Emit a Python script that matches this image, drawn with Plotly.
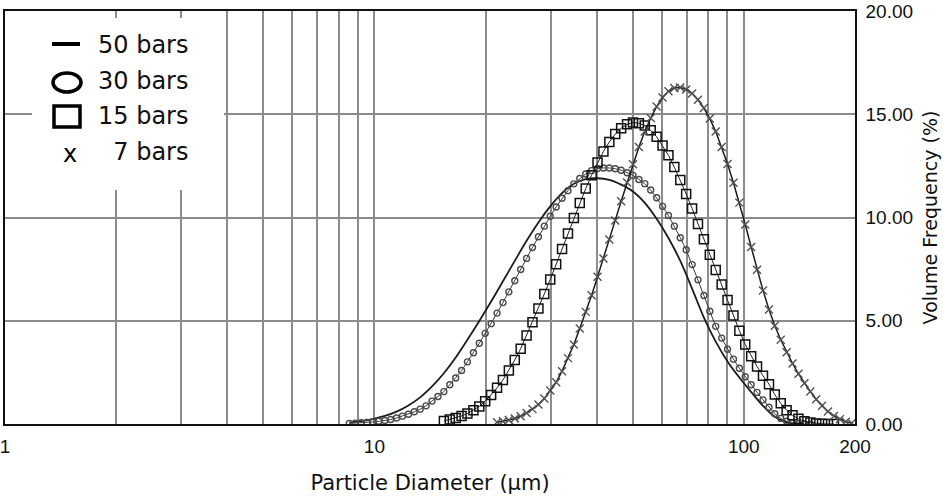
import math
import plotly.graph_objects as go

# ---------------- data ----------------
# particle-diameter bins (µm)
diam = [8.551, 8.872, 9.204, 9.550, 9.908, 10.28, 10.67, 11.07, 11.48, 11.91,
        12.36, 12.82, 13.30, 13.80, 14.32, 14.86, 15.42, 16.00, 16.60, 17.22,
        17.86, 18.54, 19.23, 19.95, 20.70, 21.48, 22.28, 23.12, 23.99, 24.89,
        25.82, 26.79, 27.80, 28.84, 29.92, 31.05, 32.21, 33.42, 34.67, 35.97,
        37.33, 38.73, 40.18, 41.69, 43.25, 44.87, 46.56, 48.31, 50.12, 52.00,
        53.95, 55.98, 58.08, 60.26, 62.52, 64.86, 67.30, 69.82, 72.44, 75.16,
        77.98, 80.91, 83.95, 87.10, 90.36, 93.76, 97.27, 100.9, 104.7, 108.6,
        112.7, 117.0, 121.3, 125.9, 130.6, 135.5, 140.6, 145.9, 151.4, 157.0,
        162.9, 169.0, 175.4, 182.0, 188.8, 195.9]

# 50 bars: solid line, values at every second bin starting from the first
bars50_y = [0.08, 0.14, 0.24, 0.39, 0.60, 0.90, 1.29, 1.82, 2.46, 3.22,
            4.08, 4.99, 5.93, 6.91, 7.90, 8.87, 9.76, 10.54, 11.18, 11.63,
            11.86, 11.90, 11.82, 11.59, 11.26, 10.71, 9.94, 9.01, 7.90, 6.56,
            5.15, 3.99, 3.03, 2.25, 1.55, 0.88, 0.35, 0.08, 0.0]

# 30 bars: circles, from bin 0
bars30_start = 0
bars30_y = [0.03, 0.04, 0.06, 0.07, 0.10, 0.13, 0.17, 0.22, 0.29, 0.38,
            0.47, 0.59, 0.72, 0.88, 1.11, 1.33, 1.57, 1.90, 2.23, 2.59,
            3.01, 3.45, 3.91, 4.39, 4.86, 5.37, 5.88, 6.40, 6.94, 7.48,
            8.02, 8.55, 9.07, 9.58, 10.06, 10.51, 10.93, 11.30, 11.63, 11.89,
            12.11, 12.27, 12.37, 12.40, 12.40, 12.36, 12.29, 12.17, 12.04, 11.84,
            11.64, 11.33, 10.96, 10.54, 10.10, 9.58, 9.02, 8.44, 7.72, 6.98,
            6.22, 5.46, 4.73, 4.16, 3.62, 3.14, 2.70, 2.29, 1.90, 1.53,
            1.17, 0.81, 0.50, 0.27, 0.13, 0.05, 0.01, 0.0, 0.0]

# 15 bars: squares, from bin 16
bars15_start = 16
bars15_y = [0.15, 0.22, 0.29, 0.39,
            0.51, 0.67, 0.85, 1.10, 1.40, 1.75, 2.13, 2.59, 3.10, 3.65,
            4.29, 4.93, 5.59, 6.30, 7.00, 7.74, 8.48, 9.23, 9.97, 10.70,
            11.40, 12.05, 12.66, 13.20, 13.66, 14.04, 14.32, 14.51, 14.60, 14.57,
            14.45, 14.22, 13.91, 13.49, 13.01, 12.44, 11.81, 11.14, 10.44, 9.69,
            8.95, 8.20, 7.46, 6.75, 6.00, 5.25, 4.52, 3.85, 3.28, 2.79,
            2.34, 1.93, 1.43, 1.00, 0.67, 0.42, 0.25, 0.13, 0.07, 0.03,
            0.01, 0.0, 0.0]

# 7 bars: crosses, from bin 25
bars7_start = 25
bars7_y = [0.09, 0.13, 0.19, 0.27, 0.38,
           0.53, 0.72, 0.94, 1.23, 1.62, 2.02, 2.56, 3.19, 3.85, 4.63,
           5.43, 6.24, 7.13, 8.01, 8.93, 9.86, 10.79, 11.70, 12.58, 13.41,
           14.16, 14.82, 15.37, 15.81, 16.11, 16.27, 16.30, 16.20, 16.01, 15.70,
           15.30, 14.79, 14.16, 13.41, 12.59, 11.68, 10.72, 9.66, 8.57, 7.47,
           6.47, 5.55, 4.76, 4.08, 3.47, 2.93, 2.43, 1.97, 1.57, 1.20,
           0.88, 0.60, 0.39, 0.23, 0.11, 0.05]

x_tick_vals = [1, 2, 3, 4, 5, 6, 7, 8, 9, 10, 20, 30, 40, 50, 60, 70, 80, 90, 100, 200]
x_tick_text = ["1", "", "", "", "", "", "", "", "", "10", "", "", "", "", "", "", "", "", "100", "200"]
y_tick_vals = [0, 5, 10, 15, 20]
legend_labels = ["50 bars", "30 bars", "15 bars", "\u00a0\u00a07 bars"]

# ---------------- figure ----------------
W, H = 943, 499
ML, MR, MT, MB = 5, 88, 11, 75
PW, PH = W - ML - MR, H - MT - MB


def px(xp):
    return (xp - ML) / PW


def py(yp):
    return (H - MB - yp) / PH


fig = go.Figure()

x50 = diam[0::2][:len(bars50_y)]
fig.add_trace(go.Scatter(x=x50, y=bars50_y, mode="lines",
                         line=dict(color="#1c1c1c", width=1.8, shape="spline"),
                         showlegend=False))

x30 = diam[bars30_start:bars30_start + len(bars30_y)]
fig.add_trace(go.Scatter(x=x30, y=bars30_y, mode="lines+markers",
                         line=dict(color="#3a3a3a", width=1),
                         marker=dict(symbol="circle-open", size=6, color="#4a4a4a",
                                     line=dict(width=1.4)),
                         showlegend=False))

x15 = diam[bars15_start:bars15_start + len(bars15_y)]
fig.add_trace(go.Scatter(x=x15, y=bars15_y, mode="lines+markers",
                         line=dict(color="#222222", width=1),
                         marker=dict(symbol="square-open", size=9, color="#111111",
                                     line=dict(width=1.5)),
                         showlegend=False))

x7 = diam[bars7_start:bars7_start + len(bars7_y)]
fig.add_trace(go.Scatter(x=x7, y=bars7_y, mode="lines+markers",
                         line=dict(color="#1c1c1c", width=1.5),
                         marker=dict(symbol="x-thin-open", size=8, color="#505050",
                                     line=dict(width=1.4)),
                         showlegend=False))

shapes = [
    # legend background
    dict(type="rect", xref="paper", yref="paper", x0=px(32), x1=px(224), y0=py(190), y1=py(18),
         fillcolor="white", line=dict(width=0), layer="above"),
    # legend symbols
    dict(type="line", xref="paper", yref="paper", x0=px(52), x1=px(80), y0=py(44), y1=py(44),
         line=dict(color="black", width=4), layer="above"),
    dict(type="circle", xref="paper", yref="paper", x0=px(53), x1=px(81), y0=py(92), y1=py(73),
         line=dict(color="black", width=3.5), layer="above"),
    dict(type="rect", xref="paper", yref="paper", x0=px(54), x1=px(80), y0=py(127), y1=py(106),
         line=dict(color="black", width=3.5), layer="above"),
]

annotations = [
    dict(xref="paper", yref="paper", x=px(70), y=py(154), text="x", showarrow=False,
         font=dict(family="DejaVu Sans", size=24, color="black"), xanchor="center", yanchor="middle"),
]
leg_y = [45, 81, 116, 152]
leg_x = [96, 96, 96, 96]
for lab, lx, ly in zip(legend_labels, leg_x, leg_y):
    annotations.append(dict(xref="paper", yref="paper", x=px(lx), y=py(ly), text=lab,
                            showarrow=False, xanchor="left", yanchor="middle",
                            font=dict(family="DejaVu Sans", size=24, color="#111111")))

fig.update_layout(
    width=W, height=H,
    margin=dict(l=ML, r=MR, t=MT, b=MB, autoexpand=False),
    paper_bgcolor="white", plot_bgcolor="white",
    showlegend=False,
    shapes=shapes, annotations=annotations,
    font=dict(family="Liberation Sans", color="#111111"),
)

fig.update_xaxes(
    type="log", range=[0, math.log10(200)],
    tickmode="array", tickvals=x_tick_vals, ticktext=x_tick_text,
    showgrid=True, gridcolor="#8c8c8c", gridwidth=1.5,
    showline=True, linecolor="#111111", linewidth=1.5, mirror=True,
    ticks="", zeroline=False, ticklabelstandoff=4, ticklabeloverflow="allow",
    tickfont=dict(family="Liberation Sans", size=19, color="#111111"),
    title=dict(text="Particle Diameter (µm)", standoff=20,
               font=dict(family="DejaVu Sans", size=21, color="#111111")),
)
fig.update_yaxes(
    range=[0, 20], side="right",
    tickmode="array", tickvals=y_tick_vals, tickformat=".2f",
    showgrid=True, gridcolor="#8c8c8c", gridwidth=1.5,
    showline=True, linecolor="#111111", linewidth=1.5, mirror=True,
    ticks="", zeroline=False, ticklabelstandoff=5, ticklabeloverflow="allow",
    tickfont=dict(family="Liberation Sans", size=19, color="#111111"),
    title=dict(text="Volume Frequency (%)", standoff=12,
               font=dict(family="DejaVu Sans", size=19, color="#111111")),
)

fig.write_html("out.html", config={"displayModeBar": False},
               post_script="document.body.style.margin='0';document.body.style.overflow='hidden';")
